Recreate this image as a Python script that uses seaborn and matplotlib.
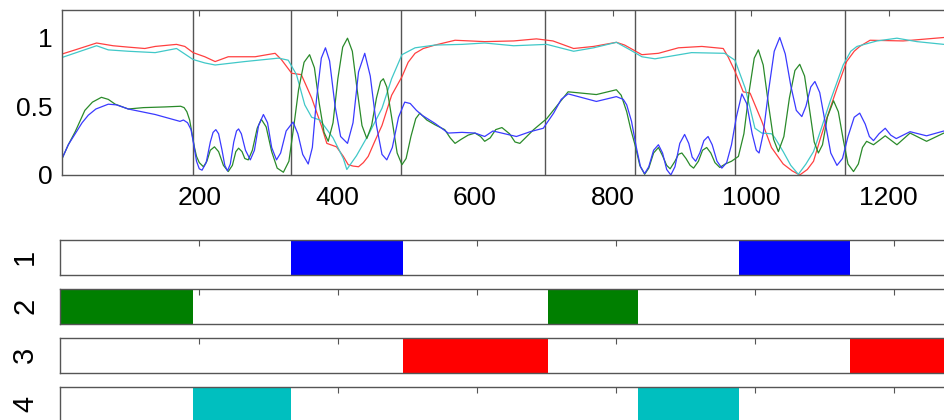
import numpy as np
import pandas as pd
import matplotlib
matplotlib.use("Agg")
import matplotlib.pyplot as plt
import seaborn as sns

# -------------------------------
# Data
# -------------------------------
red_x = [1, 20, 51, 75, 97, 121, 136, 167, 179, 191, 208, 223, 242, 281, 310, 319, 334, 348, 363,
         377, 385, 399, 409, 416, 423, 431, 438, 445, 455, 465, 479, 494, 503, 513, 525, 542,
         571, 614, 656, 689, 713, 743, 772, 805, 817, 842, 866, 895, 929, 960, 967, 977, 989,
         999, 1016, 1030, 1047, 1060, 1071, 1082, 1091, 1100, 1110, 1125, 1139, 1150, 1158,
         1173, 1221, 1280]
red_y = [0.88, 0.91, 0.96, 0.94, 0.93, 0.92, 0.935, 0.95, 0.935, 0.89, 0.86, 0.825, 0.86, 0.86,
         0.885, 0.84, 0.74, 0.73, 0.56, 0.36, 0.23, 0.205, 0.135, 0.075, 0.065, 0.06, 0.09,
         0.135, 0.25, 0.36, 0.58, 0.715, 0.82, 0.885, 0.92, 0.945,
         0.98, 0.97, 0.975, 0.99, 0.975, 0.92, 0.935, 0.965, 0.945, 0.875, 0.885, 0.925, 0.935,
         0.92, 0.86, 0.755, 0.605, 0.595, 0.39, 0.2, 0.08, 0.03, 0.0, 0.04, 0.1, 0.25, 0.41,
         0.63, 0.825, 0.9, 0.935, 0.98, 0.975, 1.0]

cyan_x = [1, 51, 68, 97, 136, 167, 191, 208, 223, 266, 315, 329, 341, 353, 363, 375, 394, 409,
          414, 428, 445, 465, 479, 494, 513, 542, 581, 614, 656, 704, 743, 772, 805, 825, 842,
          861, 914, 962, 977, 992, 1006, 1016, 1030, 1035, 1047, 1058, 1069, 1080, 1091, 1103,
          1115, 1134, 1145, 1154, 1183, 1212, 1241, 1280]
cyan_y = [0.855, 0.94, 0.91, 0.9, 0.89, 0.92, 0.84, 0.815, 0.8, 0.825, 0.85, 0.835, 0.73, 0.51,
          0.42, 0.4, 0.27, 0.12, 0.04, 0.14, 0.29, 0.485, 0.7, 0.875, 0.925, 0.945, 0.95, 0.96,
          0.94, 0.95, 0.9, 0.925, 0.965, 0.91, 0.86, 0.845, 0.89, 0.885, 0.835, 0.63, 0.34,
          0.305, 0.3, 0.27, 0.17, 0.07, 0.005, 0.08, 0.17, 0.35, 0.535, 0.8, 0.9, 0.935, 0.975,
          0.995, 0.97, 0.95]

green_x = [1, 10, 20, 34, 45, 58, 68, 78, 97, 119, 150, 173, 178, 182, 186, 189, 193, 196, 200,
           206, 211, 216, 222, 228, 235, 242, 248, 253, 257, 262, 266, 271, 277, 284, 290, 297,
           305, 313, 322, 330, 337, 344, 352, 360, 367, 374, 381, 387, 394, 401, 408, 415, 422,
           429, 436, 443, 450, 457, 463, 467, 472, 479, 487, 494, 500, 507, 514, 520, 530, 542,
           556, 564, 571, 580, 590, 600, 608, 614, 622, 630, 639, 650, 658, 665, 675, 685, 704,
           720, 735, 776, 805, 812, 820, 826, 832, 839, 846, 852, 859, 866, 872, 878, 883, 890,
           895, 900, 906, 912, 917, 924, 930, 936, 942, 948, 955, 963, 972, 982, 990, 998, 1005,
           1011, 1018, 1026, 1033, 1040, 1048, 1056, 1064, 1071, 1078, 1086, 1092, 1098, 1104,
           1111, 1120, 1127, 1134, 1141, 1149, 1156, 1162, 1168, 1178, 1195, 1212, 1231, 1255,
           1280]
green_y = [0.12, 0.22, 0.315, 0.47, 0.53, 0.565, 0.55, 0.515, 0.48, 0.49, 0.495, 0.5, 0.49,
           0.46, 0.4, 0.315, 0.2, 0.135, 0.09, 0.06, 0.1, 0.18, 0.205, 0.17, 0.07, 0.025, 0.07,
           0.17, 0.195, 0.17, 0.12, 0.11, 0.18, 0.34, 0.405, 0.35, 0.17, 0.05, 0.02, 0.1, 0.35,
           0.62, 0.82, 0.875, 0.78, 0.52, 0.31, 0.245, 0.38, 0.7, 0.93, 0.995, 0.9, 0.62, 0.36,
           0.265, 0.36, 0.56, 0.68, 0.7, 0.64, 0.42, 0.16, 0.075, 0.12, 0.28, 0.41, 0.45, 0.4,
           0.365, 0.33, 0.27, 0.23, 0.26, 0.29, 0.305, 0.28, 0.245, 0.27, 0.33, 0.345, 0.3,
           0.24, 0.23, 0.28, 0.33, 0.41, 0.51, 0.605, 0.585, 0.62, 0.58, 0.46, 0.33, 0.22, 0.07,
           0.005, 0.05, 0.16, 0.2, 0.14, 0.07, 0.045, 0.1, 0.15, 0.16, 0.12, 0.07, 0.05, 0.1,
           0.18, 0.2, 0.16, 0.09, 0.055, 0.08, 0.1, 0.135, 0.3, 0.62, 0.85, 0.91, 0.8, 0.5,
           0.26, 0.17, 0.28, 0.56, 0.76, 0.805, 0.72, 0.45, 0.24, 0.16, 0.22, 0.42, 0.54, 0.46,
           0.26, 0.08, 0.025, 0.08, 0.2, 0.245, 0.22, 0.285, 0.22, 0.305, 0.245, 0.305]

blue_x = [1, 10, 20, 30, 39, 50, 68, 80, 97, 136, 165, 172, 177, 183, 188, 192, 196, 200, 204,
          210, 216, 220, 224, 228, 233, 237, 241, 245, 250, 254, 257, 261, 267, 274, 280, 286,
          293, 299, 305, 312, 318, 326, 336, 343, 350, 358, 364, 370, 377, 383, 389, 397, 405,
          415, 423, 431, 440, 448, 457, 465, 472, 480, 489, 498, 506, 515, 523, 542, 561, 581,
          600, 614, 626, 660, 680, 699, 714, 725, 735, 776, 805, 815, 820, 827, 834, 840, 846,
          852, 859, 866, 872, 878, 884, 890, 897, 904, 910, 915, 920, 926, 932, 938, 944, 951,
          958, 965, 972, 979, 987, 994, 1002, 1008, 1012, 1018, 1026, 1034, 1042, 1050, 1058,
          1066, 1074, 1080, 1087, 1093, 1100, 1108, 1116, 1125, 1133, 1141, 1150, 1158, 1166,
          1172, 1178, 1186, 1195, 1203, 1211, 1231, 1255, 1280]
blue_y = [0.12, 0.22, 0.3, 0.38, 0.435, 0.48, 0.515, 0.51, 0.48, 0.44, 0.4, 0.39, 0.4, 0.38,
          0.33, 0.22, 0.1, 0.045, 0.035, 0.09, 0.24, 0.31, 0.33, 0.3, 0.18, 0.07, 0.03, 0.08,
          0.24, 0.32, 0.335, 0.3, 0.18, 0.11, 0.18, 0.36, 0.44, 0.38, 0.2, 0.11, 0.16, 0.32,
          0.385, 0.3, 0.15, 0.08, 0.2, 0.55, 0.85, 0.925, 0.83, 0.5, 0.28, 0.23, 0.38, 0.75,
          0.885, 0.72, 0.36, 0.15, 0.11, 0.2, 0.42, 0.53, 0.52, 0.47, 0.435, 0.375, 0.305, 0.31,
          0.305, 0.28, 0.32, 0.28, 0.315, 0.34, 0.45, 0.55, 0.59, 0.535, 0.57, 0.55, 0.51, 0.39,
          0.2, 0.06, 0.01, 0.06, 0.18, 0.22, 0.16, 0.04, 0.0, 0.06, 0.23, 0.295, 0.23, 0.13, 0.1,
          0.16, 0.25, 0.28, 0.22, 0.1, 0.05, 0.09, 0.22, 0.42, 0.59, 0.52, 0.3, 0.18, 0.16, 0.3,
          0.62, 0.9, 1.0, 0.88, 0.65, 0.47, 0.425, 0.5, 0.64, 0.68, 0.6, 0.38, 0.16, 0.07, 0.12,
          0.28, 0.42, 0.45, 0.37, 0.28, 0.25, 0.3, 0.34, 0.29, 0.265, 0.315, 0.285, 0.32]

seg_edges = [0, 191, 333, 493, 702, 832, 977, 1136, 1320]
seg_state = [2, 4, 1, 3, 2, 4, 1, 3]
xticks = [200, 400, 600, 800, 1000, 1200]

line_colors = {"red": "#ff4040", "cyan": "#40c8c8", "green": "#2a8a2a", "blue": "#3a3aff"}
state_colors = {1: "#0000ff", 2: "#007f00", 3: "#ff0000", 4: "#00bfbf"}

# long form table for seaborn
df = pd.concat([
    pd.DataFrame({"x": red_x, "y": red_y, "series": "red"}),
    pd.DataFrame({"x": cyan_x, "y": cyan_y, "series": "cyan"}),
    pd.DataFrame({"x": green_x, "y": green_y, "series": "green"}),
    pd.DataFrame({"x": blue_x, "y": blue_y, "series": "blue"}),
], ignore_index=True)

# -------------------------------
# Plot
# -------------------------------
sns.set_style("white")
plt.rcParams["font.family"] = ["Liberation Sans", "DejaVu Sans"]

W, H = 944, 420
fig = plt.figure(figsize=(W / 100, H / 100), dpi=100)

spine_col = "#555555"

ax = fig.add_axes([62.1 / W, 245 / H, 909.3 / W, 165 / H])
sns.lineplot(data=df, x="x", y="y", hue="series", palette=line_colors,
             estimator=None, sort=False, linewidth=0.9, legend=False, ax=ax)
for e in seg_edges[1:-1]:
    ax.axvline(e, color="#555555", lw=1.0, zorder=0)
ax.set_xlim(1, 1320)
ax.set_ylim(0, 1.2)
ax.set_xticks(xticks)
ax.set_xticklabels([str(t) for t in xticks])
ax.set_yticks([0, 0.5, 1])
ax.set_yticklabels(["0", "0.5", "1"])
ax.set_xlabel("")
ax.set_ylabel("")
ax.tick_params(direction="in", length=4, width=0.8, color=spine_col, labelcolor="black",
               top=True, right=True, labelsize=19, pad=8)
ax.tick_params(axis="y", pad=7)
for s in ax.spines.values():
    s.set_color(spine_col)
    s.set_linewidth(1.0)

# state strips
strip_bottoms = [275, 324, 373, 422]
for k, b in zip([1, 2, 3, 4], strip_bottoms):
    sax = fig.add_axes([60 / W, (H - b) / H, 917.4 / W, 35.5 / H])
    for i, st in enumerate(seg_state):
        if st == k:
            sax.axvspan(seg_edges[i], seg_edges[i + 1], color=state_colors[k], lw=0)
    sax.set_xlim(0, 1320)
    sax.set_ylim(0, 1)
    sax.set_xticks(xticks)
    sax.set_xticklabels([])
    sax.set_yticks([0.5])
    sax.set_yticklabels([str(k)], rotation=90, va="center")
    sax.tick_params(direction="in", length=4, width=0.8, color=spine_col, labelcolor="black",
                    top=True, right=True, labelsize=21, pad=15)
    for s in sax.spines.values():
        s.set_color(spine_col)
        s.set_linewidth(1.0)

fig.savefig("out.png", dpi=100)
